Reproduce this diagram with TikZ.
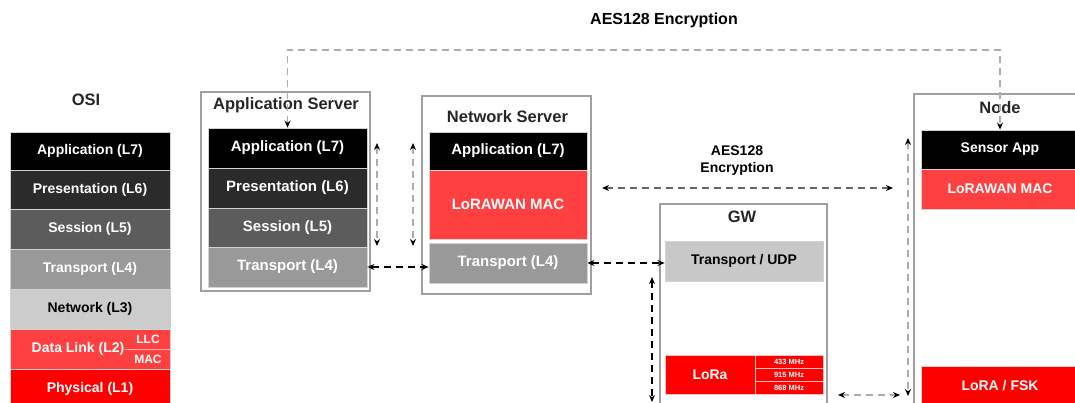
\documentclass[tikz,border=0pt]{standalone}
\usepackage{fontspec}
\setmainfont{Liberation Sans}
\usetikzlibrary{arrows.meta}

\definecolor{lsix}{HTML}{2B2B2B}
\definecolor{lfive}{HTML}{5C5C5C}
\definecolor{lfour}{HTML}{999999}
\definecolor{lthree}{HTML}{CCCCCC}
\definecolor{udpgray}{HTML}{C8C8C8}
\definecolor{macred}{HTML}{FF4040}
\definecolor{phyred}{HTML}{FF0000}

\tikzset{
  layer/.style={draw=gray!35, line width=0.8pt, inner sep=0pt, text=white,
    font=\bfseries\fontsize{14}{16}\selectfont},
  biglayer/.style={layer, font=\bfseries\fontsize{15}{17}\selectfont},
  freq/.style={layer, draw=white!75!red, fill=phyred, minimum width=68pt, minimum height=13pt,
    font=\bfseries\fontsize{7.5}{8}\selectfont},
  frame/.style={draw=gray!75, line width=1.1pt},
  title/.style={font=\bfseries\fontsize{16.5}{19}\selectfont, text=black!85},
  enc/.style={dash pattern=on 7pt off 5pt, draw=gray!65, line width=1.8pt,
    {Stealth[length=7pt,width=6pt,black]}-{Stealth[length=7pt,width=6pt,black]}},
  link/.style={enc, draw=black},
}

\begin{document}
\begin{tikzpicture}[x=1pt, y=-1pt]
        \useasboundingbox (0,0) rectangle (1075,403);
        \clip (0,0) rectangle (1075,403);

        % OSI stack
        \node[title] (osi) at (86,100) {OSI};
        \node[layer, fill=black, minimum width=160pt, minimum height=38pt] (o7) at (90,151) {Application (L7)};
        \node[layer, fill=lsix, minimum width=160pt, minimum height=39pt] (o6) at (90,189.5) {Presentation (L6)};
        \node[layer, fill=lfive, minimum width=160pt, minimum height=40pt] (o5) at (90,229) {Session (L5)};
        \node[layer, fill=lfour, minimum width=160pt, minimum height=40pt] (o4) at (90,269) {Transport (L4)};
        \node[layer, fill=lthree, text=black, minimum width=160pt, minimum height=40pt] (o3) at (90,309) {Network (L3)};
        \node[layer, fill=macred, minimum width=160pt, minimum height=40pt] (o2) at (90,349) {};
        \node[layer, fill=phyred, minimum width=160pt, minimum height=40pt] (o1) at (90,389) {Physical (L1)};
        \node[layer, draw=none] (dlink) at (78,349) {Data Link (L2)};
        \node[layer, draw=none, font=\bfseries\fontsize{12}{14}\selectfont] (llc) at (148,339) {LLC};
        \node[layer, draw=none, font=\bfseries\fontsize{12}{14}\selectfont] (mac) at (148,359.5) {MAC};
        \draw[white!70!red, line width=0.8pt] (o2.east) -- ++(-45,0);

        % Application Server
        \draw[frame] (201,92) rectangle (370,291);
        \node[title] (appsrv) at (286,105) {Application Server};
        \node[biglayer, fill=black, minimum width=159pt, minimum height=40pt] (a7) at (287.5,148) {Application (L7)};
        \node[biglayer, fill=lsix, minimum width=159pt, minimum height=40pt] (a6) at (287.5,188) {Presentation (L6)};
        \node[biglayer, fill=lfive, minimum width=159pt, minimum height=39pt] (a5) at (287.5,227.5) {Session (L5)};
        \node[biglayer, fill=lfour, minimum width=159pt, minimum height=40pt] (a4) at (287.5,267) {Transport (L4)};

        % Network Server
        \draw[frame] (422,96) rectangle (591,294);
        \node[title] (netsrv) at (507.5,117) {Network Server};
        \node[biglayer, fill=black, minimum width=158pt, minimum height=38pt] (n7) at (508,151) {Application (L7)};
        \node[biglayer, fill=macred, minimum width=158pt, minimum height=69pt] (nmac) at (508,204.5) {LoRAWAN MAC};
        \node[biglayer, fill=lfour, minimum width=158pt, minimum height=40pt] (n4) at (508,263) {Transport (L4)};

        % GW
        \draw[frame] (660,204) rectangle (827,420);
        \node[title] (gw) at (742,217) {GW};
        \node[layer, fill=udpgray, text=black, minimum width=158pt, minimum height=40pt] (gudp) at (744,261) {Transport / UDP};
        \node[layer, draw=white!75!red, fill=phyred, minimum width=90pt, minimum height=39pt] (glora) at (710,374.5) {LoRa};
        \node[freq] (gf1) at (789,361.5) {433 MHz};
        \node[freq] (gf2) at (789,374.5) {915 MHz};
        \node[freq] (gf3) at (789,387.5) {868 MHz};

        % Node
        \draw[frame] (914,94) rectangle (1090,420);
        \node[title] (sensor) at (1000,108) {Node};
        \node[layer, fill=black, minimum width=158pt, minimum height=39pt] (sapp) at (1000,149.5) {Sensor App};
        \node[layer, fill=macred, minimum width=158pt, minimum height=40pt] (smac) at (1000,189) {LoRAWAN MAC};
        \node[layer, fill=phyred, minimum width=158pt, minimum height=40pt] (sphy) at (1000,386) {LoRA / FSK};

        % end to end encryption
        \coordinate (enctop) at (640,50);
        \node[font=\bfseries\fontsize{16}{18}\selectfont] (aes) at (664,20) {AES128 Encryption};
        \draw[enc] (a7.north) |- (enctop) -| (sapp.north);

        % network session encryption
        \node[align=center, font=\bfseries\fontsize{14}{17}\selectfont] (aesmid) at (737,161) {AES128\\Encryption};
        \coordinate (encl) at (602,188);
        \coordinate (encr) at (893,188);
        \draw[enc, draw=gray!80!black] (encl) -- (encr);

        % vertical links
        \coordinate (vat) at (377,143);
        \coordinate (vab) at (377,246);
        \coordinate (vnt) at (413,143);
        \coordinate (vnb) at (413,246);
        \draw[enc] (vat) -- (vab);
        \draw[enc] (vnt) -- (vnb);
        \coordinate (vgt) at (652,277);
        \coordinate (vgb) at (652,402);
        \draw[link] (vgt) -- (vgb);
        \coordinate (vst) at (908,138);
        \coordinate (vsb) at (908,396);
        \draw[enc] (vst) -- (vsb);

        % horizontal links
        \draw[link] (a4.east) -- (a4.east -| n4.west);
        \draw[link] (n4.east) -- (n4.east -| gudp.west);
        \coordinate (radl) at (838,395);
        \coordinate (radr) at (900,395);
        \draw[enc] (radl) -- (radr);
\end{tikzpicture}
\end{document}
